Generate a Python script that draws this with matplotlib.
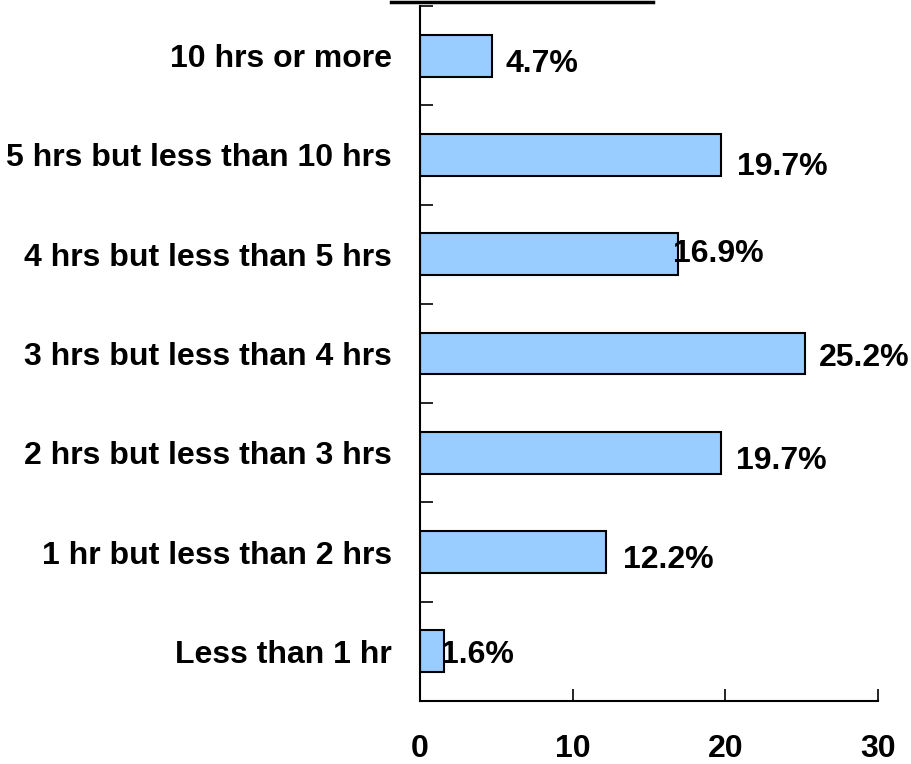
import matplotlib
matplotlib.use("Agg")
import matplotlib.pyplot as plt
from matplotlib.lines import Line2D
from matplotlib.ticker import FixedLocator

categories = [
    "Less than 1 hr",
    "1 hr but less than 2 hrs",
    "2 hrs but less than 3 hrs",
    "3 hrs but less than 4 hrs",
    "4 hrs but less than 5 hrs",
    "5 hrs but less than 10 hrs",
    "10 hrs or more",
]
values = [1.6, 12.2, 19.7, 25.2, 16.9, 19.7, 4.7]
x_ticks = [0, 10, 20, 30]

# value-label nudges, in pixels from the end of each bar
label_dx = [-3, 17, 15, 14, -5, 16, 14]
label_dy = [-4, -8, -8, -4, 0, -12, -8]

plt.rcParams["font.family"] = ["Liberation Sans", "DejaVu Sans"]
plt.rcParams["font.weight"] = "bold"

fig = plt.figure(figsize=(9.12, 7.64), dpi=100)
ax = fig.add_axes([0.4605, 0.0825, 0.5022, 0.9096])

y = list(range(len(categories)))
ax.barh(y, values, height=0.42, color="#99CCFF", edgecolor="black", linewidth=1.5)

for i, v in enumerate(values):
    ax.annotate(f"{v:.1f}%", xy=(v, i), xytext=(label_dx[i], label_dy[i]),
                textcoords="offset pixels", ha="left", va="center",
                fontsize=23, fontweight="bold")

ax.set_xlim(0, 30)
ax.set_ylim(-0.5, len(categories) - 0.5)

ax.set_yticks(y)
ax.set_yticklabels(categories, fontsize=23, fontweight="bold")
ax.tick_params(axis="y", which="major", length=0, pad=20)
ax.yaxis.set_minor_locator(FixedLocator([i - 0.5 for i in range(len(categories) + 1)]))
ax.tick_params(axis="y", which="minor", direction="in", length=9, width=1.2)

ax.set_xticks(x_ticks)
ax.set_xticklabels([str(t) for t in x_ticks], fontsize=23, fontweight="bold")
ax.tick_params(axis="x", direction="in", length=9, width=1.2, pad=24)

for side in ["top", "right"]:
    ax.spines[side].set_visible(False)
for side in ["left", "bottom"]:
    ax.spines[side].set_linewidth(1.5)

# rule along the top edge
fig.add_artist(Line2D([391 / 912, 653 / 912], [1 - 1.5 / 764, 1 - 1.5 / 764],
                      transform=fig.transFigure, color="black", linewidth=2.5))

fig.savefig("out.png", dpi=100, facecolor="white")
